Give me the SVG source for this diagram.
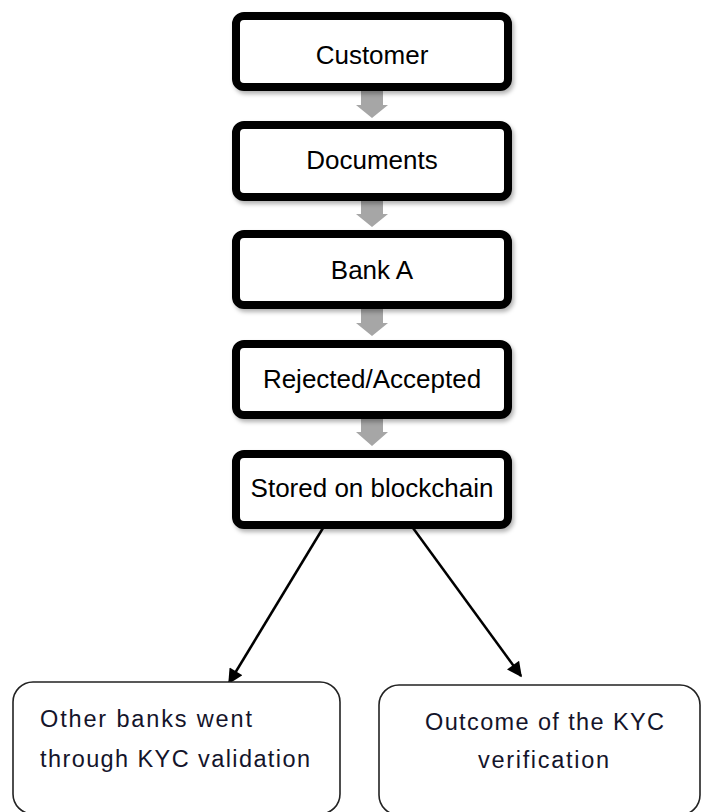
<svg xmlns="http://www.w3.org/2000/svg" width="701" height="812" viewBox="0 0 701 812">
  <style>
    .step { fill: #ffffff; stroke: #000000; stroke-width: 8; filter: url(#shadow); }
    .step-label { font-family: "Liberation Sans", Arial, sans-serif; font-size: 26px; fill: #000000; text-anchor: middle; }
    .down { fill: #a6a6a6; }
    .result { fill: #ffffff; stroke: #222222; stroke-width: 1.6; }
    .result-label { font-family: "Liberation Sans", Arial, sans-serif; font-size: 23.5px; fill: #14142a; }
    .link { stroke: #000000; stroke-width: 2.5; fill: none; marker-end: url(#head); }
  </style>
  <defs>
    <filter id="shadow" x="-10%" y="-20%" width="125%" height="150%">
      <feDropShadow dx="2" dy="3" stdDeviation="2" flood-color="#000000" flood-opacity="0.3"/>
    </filter>
    <marker id="head" viewBox="0 0 10 10" refX="9" refY="5" markerWidth="6.5" markerHeight="6" markerUnits="strokeWidth" orient="auto">
      <path d="M0,0 L10,5 L0,10 z" fill="#000000"/>
    </marker>
  </defs>

  <rect width="701" height="812" fill="#ffffff"/>

  <!-- block arrows between the process steps, then the two branch links -->
  <g id="connectors">
    <polygon class="down" points="361,91 383,91 383,105 388,105 372,118 356,105 361,105"/>
    <polygon class="down" points="361,201 383,201 383,214 388,214 372,227 356,214 361,214"/>
    <polygon class="down" points="361,309 383,309 383,323 388,323 372,336 356,323 361,323"/>
    <polygon class="down" points="361,418 383,418 383,432 388,432 372,446 356,432 361,432"/>
    <line class="link" x1="323" y1="528" x2="229" y2="683"/>
    <line class="link" x1="413" y1="528" x2="521" y2="676"/>
  </g>

  <g id="customer">
    <rect class="step" x="236" y="16" width="272" height="71" rx="8"/>
    <text class="step-label" x="372" y="64">Customer</text>
  </g>
  <g id="documents">
    <rect class="step" x="236" y="125" width="272" height="72" rx="8"/>
    <text class="step-label" x="372" y="169">Documents</text>
  </g>
  <g id="bank-a">
    <rect class="step" x="236" y="234" width="272" height="71" rx="8"/>
    <text class="step-label" x="372" y="279">Bank A</text>
  </g>
  <g id="decision">
    <rect class="step" x="236" y="344" width="272" height="71" rx="8"/>
    <text class="step-label" x="372" y="388">Rejected/Accepted</text>
  </g>
  <g id="blockchain">
    <rect class="step" x="236" y="454" width="272" height="71" rx="8"/>
    <text class="step-label" x="372" y="497">Stored on blockchain</text>
  </g>

  <g id="other-banks">
    <rect class="result" x="13" y="682" width="327" height="132" rx="20"/>
    <text class="result-label" x="40" y="727" textLength="212" lengthAdjust="spacing">Other banks went</text>
    <text class="result-label" x="40" y="767" textLength="270" lengthAdjust="spacing">through KYC validation</text>
  </g>
  <g id="outcome">
    <rect class="result" x="379" y="685" width="321" height="130" rx="20"/>
    <text class="result-label" x="425" y="730" textLength="239" lengthAdjust="spacing">Outcome of the KYC</text>
    <text class="result-label" x="478" y="768" textLength="131" lengthAdjust="spacing">verification</text>
  </g>
</svg>
